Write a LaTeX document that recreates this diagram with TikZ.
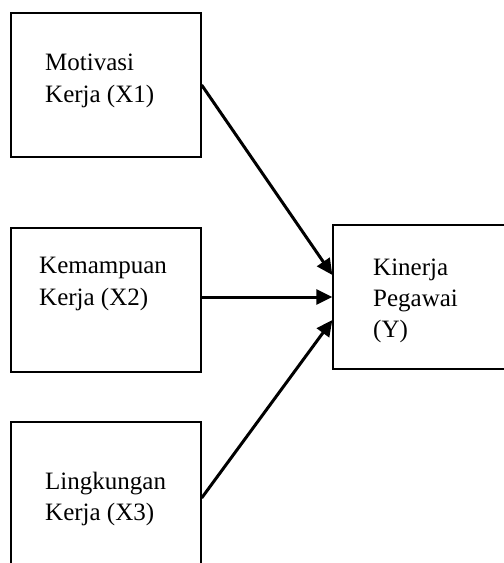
\documentclass[tikz,border=0pt]{standalone}
\usepackage{fontspec}
\setmainfont{Liberation Serif}
\usetikzlibrary{arrows.meta}

\begin{document}
\begin{tikzpicture}[x=1pt,y=-1pt]
\tikzstyle{kotak}=[draw=black,line width=1.3pt,rectangle,minimum width=190pt,inner sep=0pt]
\tikzstyle{teks}=[inner sep=0pt,align=left,anchor=base west,font=\fontsize{25}{32}\selectfont]
\tikzstyle{panah}=[black,line width=3pt,-{Triangle[length=16pt,width=15pt]}]
\clip (0,0) rectangle (504,563);
\fill [white] (0,0) rectangle (504,563);
\node [kotak,minimum height=144pt] (x1) at (106,85) {};
\node [kotak,minimum height=144pt] (x2) at (106,300) {};
\node [kotak,minimum height=152pt] (x3) at (106,498) {};
\node [kotak,minimum height=144pt] (y) at (428,297) {};
\node [teks] (tx1a) at (45,70) {Motivasi};
\node [teks] (tx1b) at (45,102) {Kerja (X1)};
\node [teks] (tx2a) at (39,273) {Kemampuan};
\node [teks] (tx2b) at (39,305) {Kerja (X2)};
\node [teks] (tx3a) at (45,489) {Lingkungan};
\node [teks] (tx3b) at (45,520) {Kerja (X3)};
\node [teks] (tya) at (373,275) {Kinerja};
\node [teks] (tyb) at (373,306) {Pegawai};
\node [teks] (tyc) at (373,337) {(Y)};
\draw [panah] (x1.east) -- ([yshift=22pt]y.west);
\draw [panah] ([yshift=3pt]x2.east) -- (y.west);
\draw [panah] (x3.east) -- ([yshift=-23pt]y.west);
\end{tikzpicture}
\end{document}
